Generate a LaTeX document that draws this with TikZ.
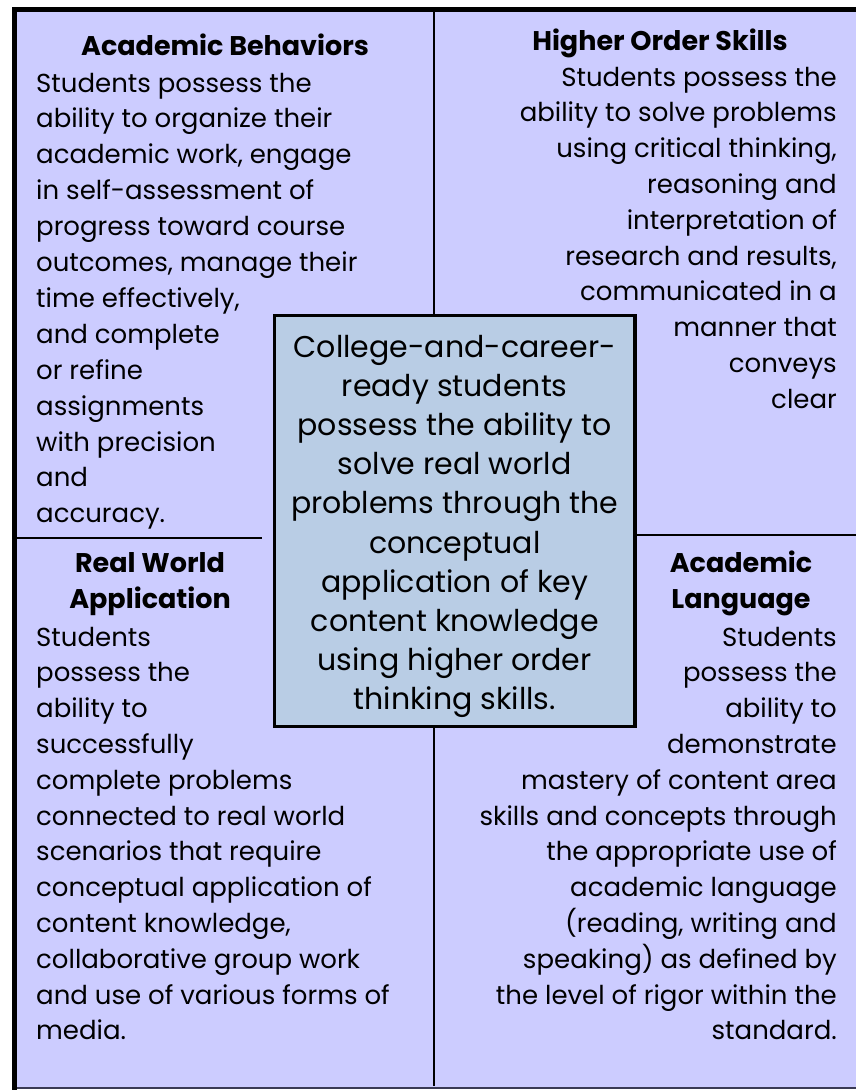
\documentclass[tikz,border=0pt]{standalone}
\usepackage{fontspec}
\newfontfamily\gf{Poppins}
\definecolor{lav}{HTML}{CCCCFF}
\definecolor{cbox}{HTML}{B9CDE5}
\definecolor{edge}{HTML}{3A3A55}
\begin{document}
\begin{tikzpicture}[x=1pt,y=-1pt,
  body/.style={font=\gf\fontsize{26}{30}\selectfont, inner sep=0pt, text=black},
  L/.style={body, anchor=base west},
  R/.style={body, anchor=base east},
  ttl/.style={font=\gf\bfseries\fontsize{27}{31}\selectfont, inner sep=0pt, anchor=base},
  ctr/.style={font=\gf\fontsize{30}{34}\selectfont, inner sep=0pt, anchor=base},
  divider/.style={draw=black, line width=2pt}]
\useasboundingbox (0,0) rectangle (856,1090);
% background panel
\fill[lav] (17,12) rectangle (856,1088);
\draw[edge, line width=1.5pt] (17,1088) -- (856,1088);
\draw[black, line width=5pt] (12,9.5) -- (856,9.5);
\draw[black, line width=5pt] (14.5,7) -- (14.5,1090);
% center box
\node[draw=black, line width=3.3pt, fill=cbox, minimum width=360.5pt, minimum height=411pt, inner sep=0pt] (core) at (454.75,521) {};
% dividers
\coordinate (vtop) at (434,12);
\coordinate (vbot) at (434,1086);
\coordinate (hl1) at (17,538);
\coordinate (hl2) at (262,538);
\coordinate (hr1) at (635,535);
\coordinate (hr2) at (856,535);
\draw[divider] (vtop) -- (vtop |- core.north);
\draw[divider] (vbot |- core.south) -- (vbot);
\draw[divider] (hl1) -- (hl2);
\draw[divider] (hr1) -- (hr2);
% Academic Behaviors
\node[ttl] (abt) at (225,55) {Academic Behaviors};
\foreach \t [count=\i] in {Students possess the, ability to organize their, {academic work, engage}, in self-assessment of, progress toward course, {outcomes, manage their}, {time effectively,}, and complete, or refine, assignments, with precision, and, accuracy.}
  \node[L] (ab\i) at (36,{92+35.9*(\i-1)}) {\t};
% Higher Order Skills
\node[ttl] (hot) at (660,50) {Higher Order Skills};
\foreach \t [count=\i] in {Students possess the, ability to solve problems, {using critical thinking,}, reasoning and, interpretation of, {research and results,}, communicated in a, manner that, conveys, clear}
  \node[R] (ho\i) at (837,{86+35.8*(\i-1)}) {\t};
% Real World Application
\node[ttl] (rwt1) at (150,572) {Real World};
\node[ttl] (rwt2) at (150,608) {Application};
\foreach \t [count=\i] in {Students, possess the, ability to, successfully, complete problems, connected to real world, scenarios that require, conceptual application of, {content knowledge,}, collaborative group work, and use of various forms of, media.}
  \node[L] (rw\i) at (36,{646+35.8*(\i-1)}) {\t};
% Academic Language
\node[ttl] (alt1) at (741,572) {Academic};
\node[ttl] (alt2) at (741,608) {Language};
\foreach \t [count=\i] in {Students, possess the, ability to, demonstrate, mastery of content area, skills and concepts through, the appropriate use of, academic language, {(reading, writing and}, speaking) as defined by, the level of rigor within the, standard.}
  \node[R] (al\i) at (837,{646+35.8*(\i-1)}) {\t};
% center text
\foreach \t [count=\i] in {College-and-career-, ready students, possess the ability to, solve real world, problems through the, conceptual, application of key, content knowledge, using higher order, thinking skills.}
  \node[ctr] (ct\i) at (454.75,{357+39.2*(\i-1)}) {\t};
\end{tikzpicture}
\end{document}
